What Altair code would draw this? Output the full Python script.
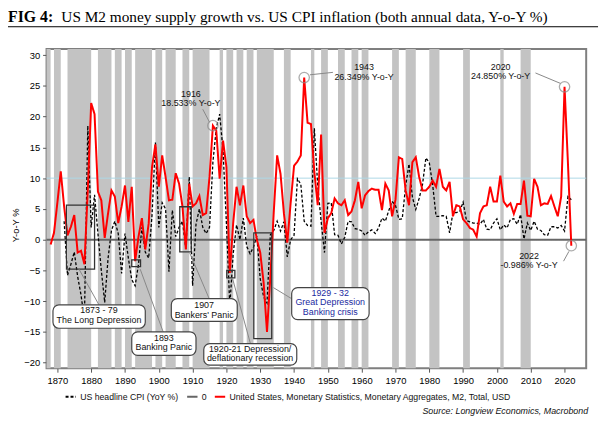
import altair as alt
import pandas as pd

# ------------------------------------------------------------------ data
m2_years = list(range(1868, 2023))
m2_growth = [
    -0.8, 1.1, 6.0, 11.1, 5.4, 0.7, 2.1, 4.0, -2.1, -1.8,          # 1868-1877
    -4.0, 8.0, 22.2, 20.4, 7.8, 6.4, 0.3, 4.3, 8.0, 7.0,            # 1878-1887
    2.7, 5.4, 8.8, 2.9, 8.6, -3.5, 0.5, 3.5, -1.6, 2.6,             # 1888-1897
    11.8, 15.5, 8.6, 13.7, 10.2, 6.4, 6.5, 10.8, 9.1, 5.4,          # 1898-1907
    -1.6, 9.1, 5.4, 5.9, 7.1, 4.0, 4.3, 10.2, 18.533, 17.7,         # 1908-1917
    9.9, 16.1, 11.8, -5.4, 2.7, 8.6, 5.6, 8.8, 3.8, 2.7,            # 1918-1927
    3.2, 0.0, -2.1, -7.0, -15.0, -6.0, 4.5, 13.7, 10.7, 4.3,        # 1928-1937
    -0.5, 6.0, 12.0, 12.7, 13.7, 26.349, 19.0, 18.8, 11.0, 5.6,     # 1938-1947
    17.1, 1.1, 3.5, 4.3, 6.7, 5.9, 5.6, 6.4, 4.0, 4.6,              # 1948-1957
    6.4, 9.4, 5.1, 7.2, 7.9, 8.3, 8.1, 8.1, 4.8, 9.1,               # 1958-1967
    8.0, 3.8, 6.5, 13.4, 13.1, 8.0, 5.6, 12.6, 13.4, 10.2,          # 1968-1977
    8.0, 8.0, 8.6, 9.6, 8.6, 11.5, 8.6, 8.0, 9.4, 3.8,              # 1978-1987
    5.6, 5.4, 3.3, 2.7, 1.9, 1.6, 0.5, 4.3, 5.4, 5.6,               # 1988-1997
    8.6, 6.2, 6.2, 10.4, 6.2, 5.4, 5.9, 4.2, 5.8, 5.8,              # 1998-2007
    9.6, 3.9, 3.8, 9.9, 8.6, 5.6, 5.9, 5.8, 7.1, 5.4,               # 2008-2017
    3.8, 7.0, 24.85, 12.5, -0.986,                                  # 2018-2022
]

cpi_years = list(range(1872, 2023))
cpi_yoy = [
    3.0, -5.8, -4.0, -2.0, -6.0, -9.0, -13.0, 18.5, 2.0, 7.3,       # 1872-1881
    1.0, -5.0, -10.2, -3.0, 1.5, 3.0, 1.0, -5.5, 1.0, -3.0,          # 1882-1891
    -6.5, -7.5, -4.0, 2.0, -2.0, -3.0, 4.0, 15.8, 2.0, 6.0,          # 1892-1901
    5.0, -5.2, 4.8, 0.5, 2.0, 3.0, -1.5, 10.2, -7.5, 2.5,            # 1902-1911
    5.0, 2.0, 1.0, 2.0, 12.6, 18.1, 20.4, 14.5, 2.6, -10.8,          # 1912-1921
    -2.3, 2.4, 0.0, 3.5, -1.1, -2.3, -1.2, 0.6, -6.4, -9.3,          # 1922-1931
    -10.3, 0.8, 1.5, 3.0, 1.4, 2.9, -2.8, 0.0, 0.7, 9.9,             # 1932-1941
    9.0, 3.0, 2.3, 2.2, 18.1, 8.8, 3.0, -2.1, 5.9, 6.0,              # 1942-1951
    0.8, 0.7, -0.7, 0.4, 3.0, 2.9, 1.8, 1.7, 1.4, 0.7,               # 1952-1961
    1.3, 1.6, 1.0, 1.9, 3.5, 3.0, 4.7, 6.2, 5.6, 3.3,                # 1962-1971
    3.4, 8.7, 12.3, 6.9, 4.9, 6.7, 9.0, 13.3, 12.5, 8.9,             # 1972-1981
    3.8, 3.8, 3.9, 3.8, 1.1, 4.4, 4.4, 4.6, 6.1, 3.1,                # 1982-1991
    2.9, 2.7, 2.7, 2.5, 3.3, 1.7, 1.6, 2.7, 3.4, 1.6,                # 1992-2001
    2.4, 1.9, 3.3, 3.4, 2.5, 4.1, 0.1, 2.7, 1.5, 3.0,                # 2002-2011
    1.7, 1.5, 0.8, 0.7, 2.1, 2.1, 1.9, 2.3, 1.4, 7.0,                # 2012-2021
    6.5,                                                             # 2022
]

# recession years (shaded, whole calendar years): first and last year of each run
rec_first = [1866, 1869, 1873, 1882, 1887, 1890, 1893, 1899, 1902, 1907, 1910,
             1918, 1920, 1923, 1926, 1929, 1937, 1945, 1948, 1953, 1957, 1960,
             1969, 1973, 1980, 1990, 2001, 2007]
rec_last = [1867, 1870, 1879, 1885, 1888, 1891, 1897, 1900, 1904, 1908, 1914,
            1918, 1921, 1924, 1927, 1933, 1938, 1945, 1949, 1954, 1958, 1961,
            1970, 1975, 1982, 1991, 2001, 2009]

CPI = "US headline CPI (YoY %)"
ZERO = "0"
M2 = "United States, Monetary Statistics, Monetary Aggregates, M2, Total, USD"

# highlighted points (circled)
hl_year = [1916, 1943, 2020, 2022]
hl_value = [18.533, 26.349, 24.85, -0.986]

# highlight labels
hl_text = ["1916", "18.533% Y-o-Y", "1943", "26.349% Y-o-Y",
           "2020", "24.850% Y-o-Y", "2022", "-0.986% Y-o-Y"]
hl_tx = [1909.5, 1909.5, 1960.7, 1960.7, 2001.1, 2001.1, 2009.5, 2009.5]
hl_ty = [23.7, 22.2, 28.0, 26.5, 28.1, 26.6, -2.7, -4.2]

# leader lines from circles to labels
hl_lx = [1913.0, 1944.7, 2011.4, 2019.7]
hl_ly = [21.2, 26.8, 27.1, -3.5]
hl_lx2 = [1915.0, 1951.5, 2018.8, 2021.3]
hl_ly2 = [19.1, 27.2, 25.4, -1.9]

# episode boxes drawn on the series
box_x = [1872.7, 1892.0, 1906.2, 1920.1, 1928.1]
box_x2 = [1881.0, 1894.6, 1909.6, 1922.5, 1933.4]
box_y = [5.6, -3.3, 5.35, -5.0, 1.1]
box_y2 = [-4.8, -4.4, -2.0, -6.2, -16.1]

# callout boxes
call_x = [1868.7, 1892.0, 1903.7, 1913.3, 1939.3]
call_x2 = [1896.0, 1911.0, 1923.2, 1940.8, 1962.2]
call_y = [-10.6, -15.0, -9.6, -16.9, -7.8]
call_y2 = [-14.4, -18.8, -13.3, -20.4, -13.0]

# leader lines box -> callout
lead_x = [1876.4, 1894.5, 1909.1, 1921.8, 1933.9]
lead_y = [-4.8, -4.8, -2.1, -6.3, -7.8]
lead_x2 = [1882.3, 1901.3, 1914.9, 1927.1, 1939.3]
lead_y2 = [-10.6, -15.0, -9.6, -16.9, -9.6]

# callout texts
call_text = ["1873 - 79", "The Long Depression", "1893", "Banking Panic",
             "1907", "Bankers' Panic", "1920-21 Depression/", "deflationary recession",
             "1929 - 32", "Great Depression", "Banking crisis"]
call_tx = [1882.3, 1882.3, 1901.5, 1901.5, 1913.4, 1913.4, 1927.0, 1927.0,
           1950.7, 1950.7, 1950.7]
call_ty = [-11.5, -13.0, -16.0, -17.5, -10.7, -12.2, -17.8, -19.3,
           -8.7, -10.2, -11.7]
call_blue = [False] * 8 + [True] * 3

x_ticks = list(range(1870, 2021, 10))
y_ticks = list(range(-20, 31, 5))
XMIN, XMAX = 1866.8, 2026.4
YMIN, YMAX = -20.9, 31.0

# ------------------------------------------------------------------ frames
lines = pd.concat([
    pd.DataFrame({"series": CPI, "year": cpi_years, "value": cpi_yoy}),
    pd.DataFrame({"series": ZERO, "year": [XMIN, XMAX], "value": [0, 0]}),
    pd.DataFrame({"series": M2, "year": m2_years, "value": m2_growth}),
], ignore_index=True)
bands = pd.DataFrame({"first": rec_first, "last": rec_last})
hl = pd.DataFrame({"year": hl_year, "value": hl_value})
hl_lab = pd.DataFrame({"x": hl_tx, "y": hl_ty, "text": hl_text})
hl_lead = pd.DataFrame({"x": hl_lx, "y": hl_ly, "x2": hl_lx2, "y2": hl_ly2})
boxes = pd.DataFrame({"x": box_x, "x2": box_x2, "y": box_y, "y2": box_y2})
calls = pd.DataFrame({"x": call_x, "x2": call_x2, "y": call_y, "y2": call_y2})
leads = pd.DataFrame({"x": lead_x, "x2": lead_x2, "y": lead_y, "y2": lead_y2})
ctext = pd.DataFrame({"x": call_tx, "y": call_ty, "text": call_text, "blue": call_blue})

FONT = "Liberation Sans"
xs = alt.Scale(domain=[XMIN, XMAX], nice=False, zero=False, clamp=True)
ys = alt.Scale(domain=[YMIN, YMAX], nice=False, zero=False)

x_axis = alt.Axis(values=x_ticks, format="d", title=None, grid=False, domain=False,
                  tickSize=4, tickColor="#555", labelFont=FONT, labelFontSize=9.5,
                  labelColor="#000", labelPadding=3)
y_axis = alt.Axis(values=y_ticks, title="Y-o-Y %", grid=False, domain=False,
                  tickSize=4, tickColor="#555", labelFont=FONT, labelFontSize=9.5,
                  labelColor="#000", labelPadding=3, titleFont=FONT,
                  titleFontSize=9.5, titleFontWeight="normal", titleColor="#000",
                  titleX=-31, titleY=178, titleAngle=270, titleBaseline="middle",
                  titleAlign="center")


def X(f):
    return alt.X(f, scale=xs, axis=x_axis)


def Y(f):
    return alt.Y(f, scale=ys, axis=y_axis)


band_layer = alt.Chart(bands).transform_calculate(
    end="datum.last + 1", lo=str(YMIN), hi=str(YMAX)
).mark_rect(color="#c3c3c3").encode(
    x=X("first:Q"), x2="end:Q", y=Y("lo:Q"), y2="hi:Q",
)

ten_layer = alt.Chart(pd.DataFrame({"v": [10]})).mark_rule(
    color="#add8e6", strokeWidth=1).encode(y=Y("v:Q"))

leg = alt.Legend(title=None, orient="none", legendX=18, legendY=345,
                 direction="horizontal", columns=3,
                 symbolType="stroke", symbolSize=110,
                 symbolStrokeWidth=2, labelFont=FONT,
                 labelFontSize=8.8, labelColor="#111",
                 labelLimit=0, columnPadding=4, labelOffset=3)
color = alt.Color("series:N", scale=alt.Scale(domain=[CPI, ZERO, M2],
                  range=["#000000", "#666666", "#ff0000"]), legend=leg)
dash = alt.StrokeDash("series:N", scale=alt.Scale(domain=[CPI, ZERO, M2],
                      range=[[3, 2], [1, 0], [1, 0]]), legend=leg)


def line_layer(name, width):
    return alt.Chart(lines).transform_filter(
        alt.datum.series == name
    ).mark_line(strokeWidth=width, strokeJoin="miter").encode(
        x=X("year:Q"), y=Y("value:Q"),
        color=color, strokeDash=dash, order="year:Q",
    )


zero_layer = line_layer(ZERO, 2)
cpi_layer = line_layer(CPI, 1.3)
m2_layer = line_layer(M2, 2)

box_layer = alt.Chart(boxes).mark_rect(fillOpacity=0, stroke="#333",
                                       strokeWidth=1.3).encode(
    x=X("x:Q"), x2="x2:Q", y=Y("y:Q"), y2="y2:Q")

lead_layer = alt.Chart(leads).mark_rule(color="#888", strokeWidth=1).encode(
    x=X("x:Q"), x2="x2:Q", y=Y("y:Q"), y2="y2:Q")

call_layer = alt.Chart(calls).mark_rect(fill="white", stroke="#444", strokeWidth=1.2,
                                        cornerRadius=6).encode(
    x=X("x:Q"), x2="x2:Q", y=Y("y:Q"), y2="y2:Q")

ctext_layer = alt.Chart(ctext).mark_text(font=FONT, fontSize=9, baseline="middle",
                                         align="center").encode(
    x=X("x:Q"), y=Y("y:Q"), text="text:N",
    color=alt.condition(alt.datum.blue, alt.value("#1a2aa0"), alt.value("#111")),
)

hl_lead_layer = alt.Chart(hl_lead).mark_rule(color="#888", strokeWidth=1).encode(
    x=X("x:Q"), x2="x2:Q", y=Y("y:Q"), y2="y2:Q")

hl_text_layer = alt.Chart(hl_lab).mark_text(font=FONT, fontSize=9, baseline="middle",
                                            align="center", color="#111").encode(
    x=X("x:Q"), y=Y("y:Q"), text="text:N")

circle_layer = alt.Chart(hl).mark_point(shape="circle", size=110, filled=False,
                                        color="#8a8a8a", strokeWidth=1.3).encode(
    x=X("year:Q"), y=Y("value:Q"))

one = pd.DataFrame({"k": [0]})
title_bold = alt.Chart(one).mark_text(font="Liberation Serif", fontSize=16,
                                      fontWeight="bold", align="left",
                                      baseline="alphabetic", color="#000").encode(
    x=alt.value(-39), y=alt.value(-27), text=alt.value("FIG 4:"))
title_rest = alt.Chart(one).mark_text(font="Liberation Serif", fontSize=15.5,
                                      align="left", baseline="alphabetic",
                                      color="#000").encode(
    x=alt.value(15), y=alt.value(-27),
    text=alt.value("US M2 money supply growth vs. US CPI inflation (both annual data, Y-o-Y %)"))
underline = alt.Chart(one).mark_rule(color="#000", strokeWidth=1).encode(
    x=alt.value(-39), x2=alt.value(558), y=alt.value(-22.5))
source = alt.Chart(one).mark_text(font=FONT, fontSize=9, fontStyle="italic",
                                  align="right", baseline="middle", color="#111").encode(
    x=alt.value(548), y=alt.value(366),
    text=alt.value("Source: Longview Economics, Macrobond"))

chart = alt.layer(
    band_layer, ten_layer, zero_layer, cpi_layer, m2_layer,
    box_layer, lead_layer, call_layer, ctext_layer,
    hl_lead_layer, hl_text_layer, circle_layer,
    title_bold, title_rest, underline, source,
).properties(
    width=546, height=323,
    autosize=alt.AutoSizeParams(type="none"),
    padding={"left": 39, "top": 39, "right": 16, "bottom": 55},
    background="white",
).configure_view(
    stroke="#7f7f7f", strokeWidth=2
).resolve_scale(color="shared", strokeDash="shared")

chart.save("out.html", embed_options={"renderer": "svg", "actions": False})
